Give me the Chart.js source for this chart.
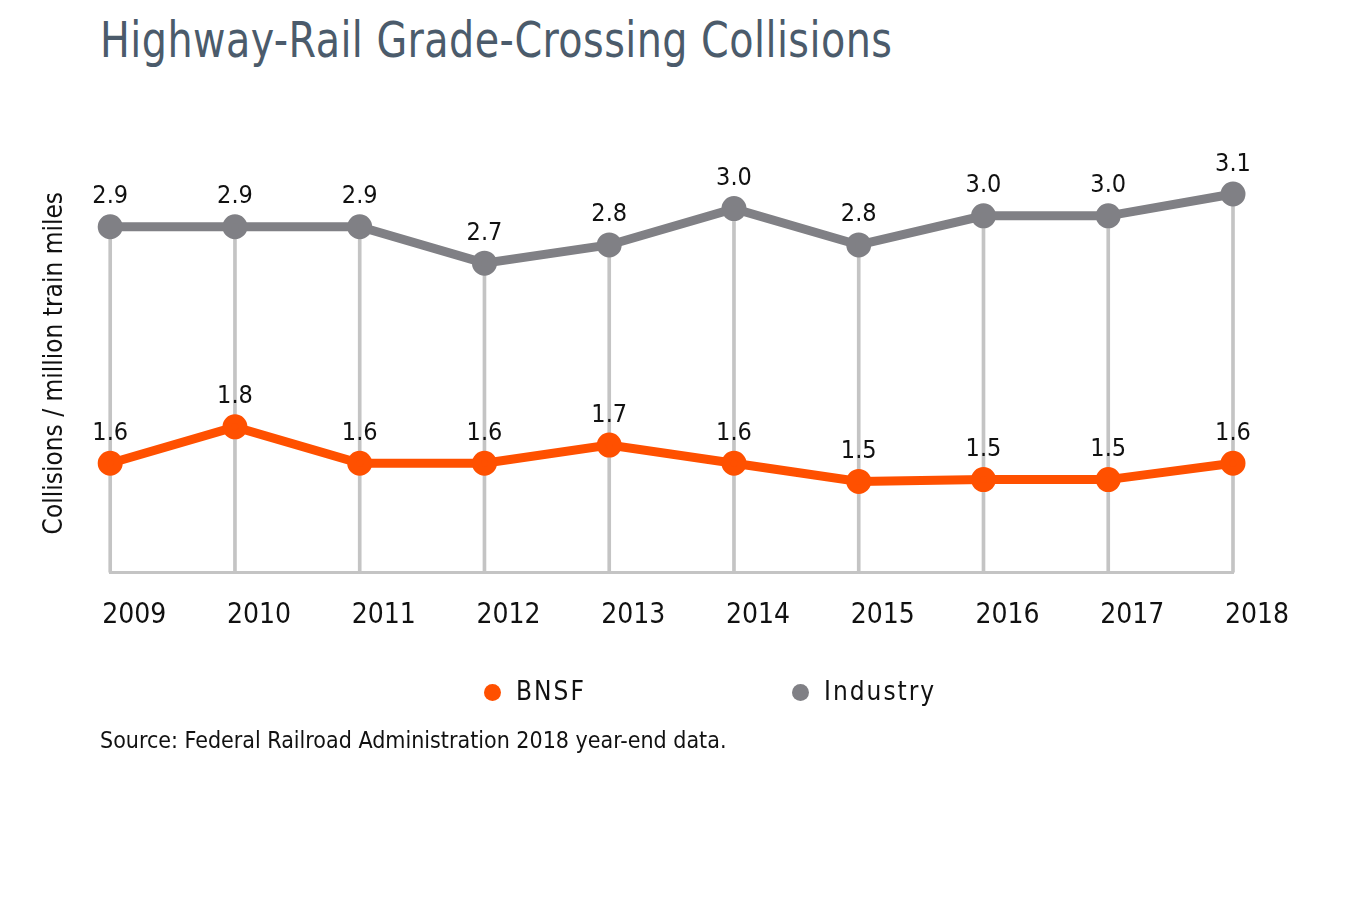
<!DOCTYPE html>
<html>
<head>
<meta charset="utf-8">
<title>Highway-Rail Grade-Crossing Collisions</title>
<script src="https://cdn.jsdelivr.net/npm/chart.js@4.4.1/dist/chart.umd.min.js"></script>
<style>
  body { margin: 0; background: #fff; font-family: "Liberation Sans Narrow", "DejaVu Sans Condensed", sans-serif; }
  #wrap { position: relative; width: 1358px; height: 924px; }
  #wrap canvas { position: absolute; left: 0; top: 0; }
  h1 { position: absolute; left: 100px; top: 12px; margin: 0; font-weight: normal; font-size: 49px; color: #4b5b6b;
       letter-spacing: 0.5px; transform: scaleX(0.9); transform-origin: left top; white-space: nowrap; }
  .legend { position: absolute; top: 676px; font-size: 26px; color: #111; letter-spacing: 2px; }
  .legend i { display: inline-block; width: 17px; height: 17px; border-radius: 50%; margin-right: 15px; vertical-align: -1px; }
  .source { position: absolute; left: 100px; top: 727px; font-size: 23px; color: #111; }
</style>
</head>
<body>
<div id="wrap">
  <h1>Highway-Rail Grade-Crossing Collisions</h1>
  <canvas id="myChart" width="1358" height="924"></canvas>
  <div class="legend" style="left:484px"><i style="background:#ff5000"></i>BNSF</div>
  <div class="legend" style="left:792px"><i style="background:#808085"></i>Industry</div>
  <div class="source">Source: Federal Railroad Administration 2018 year-end data.</div>
</div>
<script>
var years = ["2009", "2010", "2011", "2012", "2013", "2014", "2015", "2016", "2017", "2018"];
var bnsf = [1.6, 1.8, 1.6, 1.6, 1.7, 1.6, 1.5, 1.51, 1.51, 1.6];
var industry = [2.9, 2.9, 2.9, 2.7, 2.8, 3.0, 2.8, 2.96, 2.96, 3.08];

var font = "Liberation Sans Narrow, DejaVu Sans Condensed, sans-serif";

// value labels above each point of the two lines
var pointLabels = {
  id: "pointLabels",
  afterDatasetsDraw: function (chart) {
    var ctx = chart.ctx;
    ctx.save();
    ctx.font = "25px " + font;
    ctx.fillStyle = "#111";
    ctx.textAlign = "center";
    ctx.textBaseline = "middle";
    chart.data.datasets.forEach(function (ds, i) {
      if (ds.type !== "line") return;
      chart.getDatasetMeta(i).data.forEach(function (pt, j) {
        ctx.fillText(ds.data[j].toFixed(1), pt.x, pt.y - 30);
      });
    });
    ctx.restore();
  },
};

var ctx = document.getElementById("myChart").getContext("2d");
var chart = new Chart(ctx, {
  data: {
    labels: years,
    datasets: [
      {
        type: "line",
        label: "BNSF",
        data: bnsf,
        borderColor: "#ff5000",
        backgroundColor: "#ff5000",
        borderWidth: 9,
        pointRadius: 8,
        pointHoverRadius: 8,
        clip: false,
        order: 1,
      },
      {
        type: "line",
        label: "Industry",
        data: industry,
        borderColor: "#808085",
        backgroundColor: "#808085",
        borderWidth: 9,
        pointRadius: 8,
        pointHoverRadius: 8,
        clip: false,
        order: 2,
      },
      {
        // thin drop lines from the industry points down to the axis
        type: "bar",
        label: "drop",
        data: industry,
        backgroundColor: "#c4c4c4",
        barThickness: 3,
        clip: { left: 10, right: 10, top: 10, bottom: 0 },
        order: 3,
      },
    ],
  },
  plugins: [pointLabels],
  options: {
    responsive: false,
    animation: false,
    layout: { padding: { left: 31, right: 125, top: 154, bottom: 264 } },
    plugins: {
      legend: { display: false },
      tooltip: { enabled: false },
    },
    scales: {
      x: {
        offset: false,
        grid: { display: false, drawTicks: false },
        border: { display: true, color: "#c4c4c4", width: 3 },
        ticks: {
          color: "#111",
          font: { family: font, size: 28 },
          padding: 27,
          labelOffset: 24,
          maxRotation: 0,
        },
      },
      y: {
        min: 1.0,
        max: 3.3,
        grid: { display: false, drawTicks: false },
        border: { display: false },
        ticks: { display: false },
        title: {
          display: true,
          text: "Collisions / million train miles",
          color: "#111",
          font: { family: font, size: 26 },
          padding: { top: 9, bottom: 39 },
        },
      },
    },
  },
});
</script>
</body>
</html>
